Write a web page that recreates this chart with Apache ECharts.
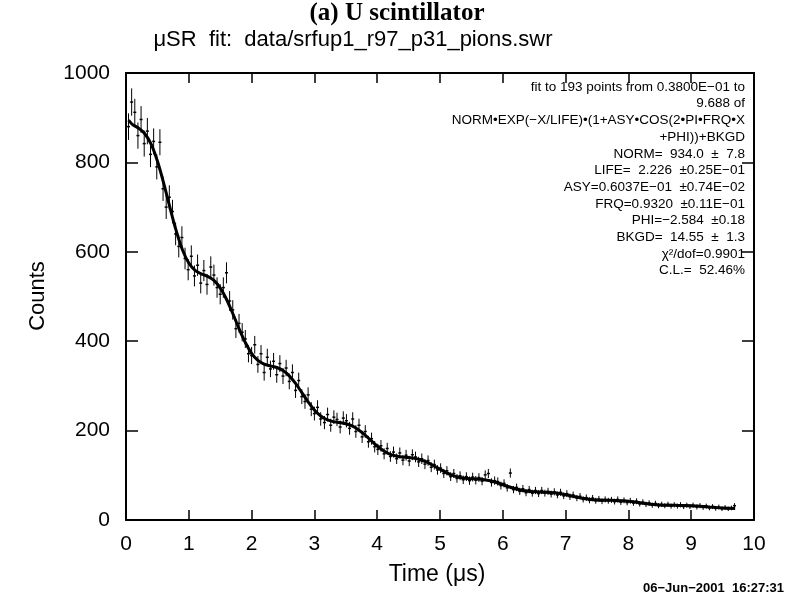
<!DOCTYPE html>
<html><head><meta charset="utf-8">
<script src="https://cdn.jsdelivr.net/npm/echarts@6/dist/echarts.min.js"></script>
<style>html,body{margin:0;padding:0;background:#fff}#c{width:788px;height:612px}</style>
</head><body><div id="c"></div>
<script>
// Data bins (time in microseconds)
var times = [
0.04,0.09,0.14,0.19,0.24,0.29,0.34,0.39,0.44,0.49,
0.54,0.59,0.64,0.69,0.74,0.79,0.84,0.89,0.94,0.99,
1.04,1.09,1.14,1.19,1.24,1.29,1.35,1.40,1.45,1.50,
1.55,1.60,1.65,1.70,1.75,1.80,1.85,1.90,1.95,2.00,
2.05,2.10,2.15,2.20,2.25,2.30,2.35,2.40,2.45,2.50,
2.55,2.60,2.65,2.70,2.75,2.80,2.85,2.90,2.95,3.00,
3.05,3.10,3.16,3.21,3.26,3.31,3.36,3.41,3.46,3.51,
3.56,3.61,3.66,3.71,3.76,3.81,3.86,3.91,3.96,4.01,
4.06,4.11,4.16,4.21,4.26,4.31,4.36,4.41,4.46,4.51,
4.56,4.61,4.66,4.71,4.76,4.81,4.86,4.91,4.96,5.01,
5.06,5.11,5.17,5.22,5.27,5.32,5.37,5.42,5.47,5.52,
5.57,5.62,5.67,5.72,5.77,5.82,5.87,5.92,5.97,6.02,
6.07,6.12,6.17,6.22,6.27,6.32,6.37,6.42,6.47,6.52,
6.57,6.62,6.67,6.72,6.77,6.82,6.87,6.92,6.97,7.02,
7.07,7.12,7.18,7.23,7.28,7.33,7.38,7.43,7.48,7.53,
7.58,7.63,7.68,7.73,7.78,7.83,7.88,7.93,7.98,8.03,
8.08,8.13,8.18,8.23,8.28,8.33,8.38,8.43,8.48,8.53,
8.58,8.63,8.68,8.73,8.78,8.83,8.88,8.93,8.98,9.03,
9.09,9.14,9.19,9.24,9.29,9.34,9.39,9.44,9.49,9.54,
9.59,9.64,9.69];
var counts = [
880,935,912,860,896,842,870,818,847,790,
845,741,700,722,690,640,612,632,585,560,
590,546,570,530,558,527,566,548,520,505,
520,553,490,470,428,440,420,405,372,368,
392,348,372,330,364,338,355,325,350,322,
340,310,330,290,312,276,265,280,248,238,
252,226,218,236,212,230,225,208,228,222,
205,226,198,212,186,198,175,182,164,158,
166,148,160,142,152,137,150,134,145,132,
146,141,130,137,125,133,118,124,112,116,
104,110,97,104,93,99,90,97,88,96,
89,95,87,101,104,84,88,86,77,82,
72,105,68,73,64,70,61,68,60,66,
59,66,60,64,58,63,56,62,54,59,
52,56,49,53,46,50,44,49,43,47,
42,46,43,45,41,46,40,44,39,43,
38,42,36,40,35,38,33,37,32,35,
32,35,31,34,31,34,30,33,30,33,
29,32,28,31,27,30,26,29,25,28,
25,27,32];
var errors = [
29.7,30.6,30.2,29.3,29.9,29.0,29.5,28.6,29.1,28.1,
29.1,27.2,26.5,26.9,26.3,25.3,24.7,25.1,24.2,23.7,
24.3,23.4,23.9,23.0,23.6,23.0,23.8,23.4,22.8,22.5,
22.8,23.5,22.1,21.7,20.7,21.0,20.5,20.1,19.3,19.2,
19.8,18.7,19.3,18.2,19.1,18.4,18.8,18.0,18.7,17.9,
18.4,17.6,18.2,17.0,17.7,16.6,16.3,16.7,15.7,15.4,
15.9,15.0,14.8,15.4,14.6,15.2,15.0,14.4,15.1,14.9,
14.3,15.0,14.1,14.6,13.6,14.1,13.2,13.5,12.8,12.6,
12.9,12.2,12.6,11.9,12.3,11.7,12.2,11.6,12.0,11.5,
12.1,11.9,11.4,11.7,11.2,11.5,10.9,11.1,10.6,10.8,
10.2,10.5,9.8,10.2,9.6,9.9,9.5,9.8,9.4,9.8,
9.4,9.7,9.3,10.0,10.2,9.2,9.4,9.3,8.8,9.1,
8.5,10.2,8.2,8.5,8.0,8.4,7.8,8.2,7.7,8.1,
7.7,8.1,7.7,8.0,7.6,7.9,7.5,7.9,7.3,7.7,
7.2,7.5,7.0,7.3,6.8,7.1,6.6,7.0,6.6,6.9,
6.5,6.8,6.6,6.7,6.4,6.8,6.3,6.6,6.2,6.6,
6.2,6.5,6.0,6.3,5.9,6.2,5.7,6.1,5.7,5.9,
5.7,5.9,5.6,5.8,5.6,5.8,5.5,5.7,5.5,5.7,
5.4,5.7,5.3,5.6,5.2,5.5,5.1,5.4,5.0,5.3,
5.0,5.2,5.7];
// Fit curve
var fitTimes = [0.04,
0.1,0.2,0.3,0.4,0.5,0.6,0.7,0.8,0.9,1.0,
1.1,1.2,1.3,1.4,1.5,1.6,1.7,1.8,1.9,2.0,
2.1,2.2,2.3,2.4,2.5,2.6,2.7,2.8,2.9,3.0,
3.1,3.2,3.3,3.4,3.5,3.6,3.7,3.8,3.9,4.0,
4.1,4.2,4.3,4.4,4.5,4.6,4.7,4.8,4.9,5.0,
5.1,5.2,5.3,5.4,5.5,5.6,5.7,5.8,5.9,6.0,
6.1,6.2,6.3,6.4,6.5,6.6,6.7,6.8,6.9,7.0,
7.1,7.2,7.3,7.4,7.5,7.6,7.7,7.8,7.9,8.0,
8.1,8.2,8.3,8.4,8.5,8.6,8.7,8.8,8.9,9.0,
9.1,9.2,9.3,9.4,9.5,9.6,9.7];
var fitValues = [894.5,
885.2,876.4,864.1,840.7,803.0,753.6,698.8,646.7,604.1,574.9,
558.4,550.6,545.1,536.1,519.3,493.8,461.9,428.0,397.1,372.9,
357.1,348.7,344.7,341.1,334.3,322.5,305.5,285.1,264.4,246.2,
232.7,224.3,220.0,217.9,215.3,210.4,202.1,190.9,178.1,165.6,
155.0,147.5,143.1,141.0,139.8,137.9,134.3,128.7,121.4,113.4,
105.9,99.8,95.8,93.5,92.4,91.6,90.2,87.7,83.9,79.2,
74.3,69.8,66.4,64.2,63.1,62.5,62.0,60.9,59.1,56.6,
53.6,50.6,48.0,46.1,45.0,44.4,44.1,43.7,42.9,41.7,
40.1,38.2,36.4,34.9,33.8,33.2,32.9,32.7,32.5,31.9,
31.1,30.0,28.8,27.8,26.9,26.3,26.0];
var xTicks = [0,1,2,3,4,5,6,7,8,9,10];
var yTicks = [0,200,400,600,800,1000];
var fitText = [
  'fit to 193 points from 0.3800E\u221201 to',
  '9.688 of',
  'NORM\u2022EXP(\u2212X/LIFE)\u2022(1+ASY\u2022COS(2\u2022PI\u2022FRQ\u2022X',
  '+PHI))+BKGD',
  'NORM=  934.0  \u00b1  7.8',
  'LIFE=  2.226  \u00b10.25E\u221201',
  'ASY=0.6037E\u221201  \u00b10.74E\u221202',
  'FRQ=0.9320  \u00b10.11E\u221201',
  'PHI=\u22122.584  \u00b10.18',
  'BKGD=  14.55  \u00b1  1.3',
  '\u03c7\u00b2/dof=0.9901',
  'C.L.=  52.46%'
];

var chart = echarts.init(document.getElementById('c'), null, {renderer:'canvas'});
var errData = times.map(function(t,i){return [t, counts[i], errors[i]];});
var fitData = fitTimes.map(function(t,i){return [t, fitValues[i]];});
var FONT = 'Liberation Sans';
function mkAxis(extra){
  var base = {
    type:'value', min:0,
    axisLine:{show:true, onZero:false, lineStyle:{color:'#000',width:2}},
    splitLine:{show:false}
  };
  return Object.assign(base, extra);
}
var graphics = [];
fitText.forEach(function(s,i){
  graphics.push({type:'text', right:43, top:80+i*16.7, style:{text:s, font:'13.5px "Liberation Sans"', fill:'#000', textAlign:'right'}});
});
graphics.push({type:'text', x:397, y:14, style:{text:'(a) U scintillator', font:'bold 25px "Liberation Serif"', fill:'#000', textAlign:'center', textVerticalAlign:'middle'}});
graphics.push({type:'text', x:353, y:40, style:{text:'\u03bcSR  fit:  data/srfup1_r97_p31_pions.swr', font:'22px "Liberation Sans"', fill:'#000', textAlign:'center', textVerticalAlign:'middle'}});
graphics.push({type:'text', x:437, y:575, style:{text:'Time (\u03bcs)', font:'23px "Liberation Sans"', fill:'#000', textAlign:'center', textVerticalAlign:'middle'}});
graphics.push({type:'text', x:38, y:296, rotation:Math.PI/2, style:{text:'Counts', font:'22px "Liberation Sans"', fill:'#000', textAlign:'center', textVerticalAlign:'middle'}});
graphics.push({type:'text', right:4, top:582, style:{text:'06\u2212Jun\u22122001  16:27:31', font:'bold 13px "Liberation Sans"', fill:'#000'}});

chart.setOption({
  animation:false,
  backgroundColor:'#fff',
  grid:{left:126, right:34, top:73, bottom:92, show:false},
  xAxis:[
    mkAxis({position:'bottom', max:10, interval:1,
      axisTick:{show:true, inside:true, length:10, lineStyle:{color:'#000',width:1.5}},
      axisLabel:{show:true, color:'#000', fontFamily:FONT, fontSize:21, margin:14,
        formatter:function(v){return xTicks.indexOf(v)>=0 ? String(v) : '';}}}),
    mkAxis({position:'top', max:10, interval:1,
      axisTick:{show:true, inside:true, length:10, lineStyle:{color:'#000',width:1.5}},
      axisLabel:{show:false}})
  ],
  yAxis:[
    mkAxis({position:'left', max:1000, interval:200,
      axisTick:{show:true, inside:true, length:12, lineStyle:{color:'#000',width:1.5}},
      axisLabel:{show:true, color:'#000', fontFamily:FONT, fontSize:21, margin:16,
        formatter:function(v){return yTicks.indexOf(v)>=0 ? String(v) : '';}}}),
    mkAxis({position:'right', max:1000, interval:200,
      axisTick:{show:true, inside:true, length:12, lineStyle:{color:'#000',width:1.5}},
      axisLabel:{show:false}})
  ],
  graphic: graphics,
  series:[
    {
      type:'custom', xAxisIndex:0, yAxisIndex:0, data:errData, clip:true,
      encode:{x:0, y:1},
      renderItem:function(params, api){
        var t = api.value(0), v = api.value(1), e = api.value(2);
        var p = api.coord([t, v]);
        var hi = api.coord([t, v+e]);
        var lo = api.coord([t, v-e]);
        return {type:'group', children:[
          {type:'line', shape:{x1:p[0], y1:hi[1], x2:p[0], y2:lo[1]}, style:{stroke:'#000', lineWidth:1}},
          {type:'line', shape:{x1:p[0]-1.5, y1:p[1], x2:p[0]+1.5, y2:p[1]}, style:{stroke:'#000', lineWidth:1.5}}
        ]};
      }
    },
    {
      type:'line', xAxisIndex:0, yAxisIndex:0, data:fitData, showSymbol:false, smooth:0.3,
      lineStyle:{color:'#000', width:3}
    }
  ]
});
</script></body></html>
